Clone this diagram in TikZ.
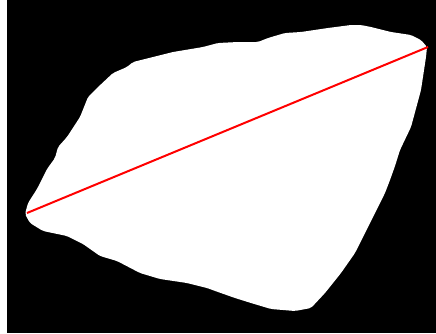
\documentclass[tikz,border=0pt]{standalone}
\usepackage{tikz}
\usetikzlibrary{positioning,calc}
\usepackage{xcolor}
\definecolor{cutred}{HTML}{FF0000}

\begin{document}
\begin{tikzpicture}[x=1pt, y=-1pt, line join=round]
% ---- frame: white strip and black background ----------------------
\useasboundingbox (0,0) rectangle (436,333);
\fill[white] (0,0) rectangle (436,333);
\fill[black] (7,0) rectangle (436,333);
% ---- white particle outline ---------------------------------------
\fill[white, rounded corners=2pt]
  (218,43) -- (203,47) -- (173,52) -- (153,57) -- (133,62) -- (127,67)
  -- (113,73) -- (97,88) -- (88,97) -- (80,117) -- (67,137) -- (58,147)
  -- (55,158) -- (47,169) -- (37,189) -- (28,203) -- (25,214) -- (30,223)
  -- (43,231) -- (67,236) -- (83,244) -- (100,256) -- (117,261)
  -- (140,273) -- (160,279) -- (187,283) -- (207,288) -- (218,292)
  -- (235,298) -- (251,303) -- (271,309) -- (295,311) -- (311,308)
  -- (325,293) -- (341,273) -- (355,253) -- (365,233) -- (375,213)
  -- (385,193) -- (390,180) -- (395,166) -- (400,150) -- (411,127)
  -- (421,90) -- (426,57) -- (427,47) -- (421,40) -- (411,35) -- (391,32)
  -- (371,27) -- (361,25) -- (351,25) -- (328,28) -- (301,32)
  -- (285,33) -- (268,38) -- (258,42) -- (238,42) -- cycle;
% ---- longest chord ------------------------------------------------
\coordinate (chordA) at (27,213);
\coordinate (chordB) at (428,47);
\draw[cutred, line width=2pt] (chordA) -- (chordB);
\end{tikzpicture}
\end{document}
